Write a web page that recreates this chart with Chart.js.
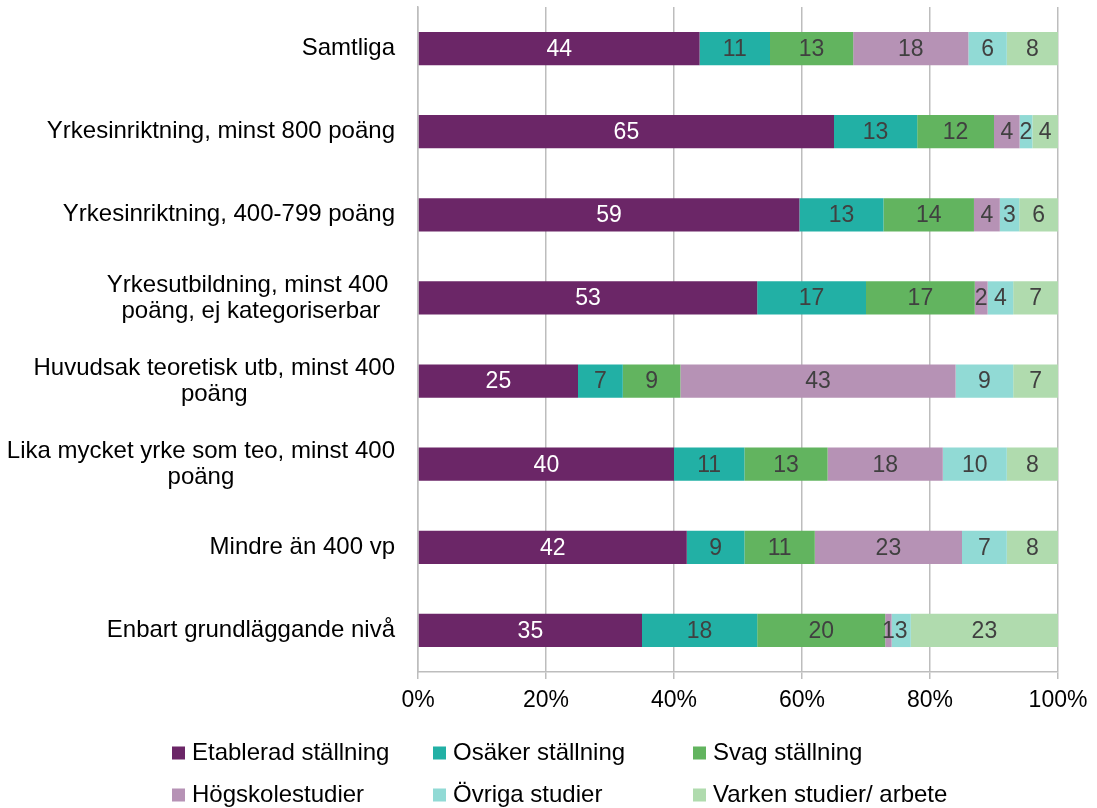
<!DOCTYPE html>
<html>
<head>
<meta charset="utf-8">
<script src="https://cdn.jsdelivr.net/npm/chart.js@4.4.1/dist/chart.umd.min.js"></script>
<style>
  html, body { margin: 0; padding: 0; background: #fff; }
</style>
</head>
<body>
<canvas id="chart" width="1097" height="808"></canvas>
<script>
// Kategorier (radbrytningar som i originalet)
const categories = [
  ['Samtliga'],
  ['Yrkesinriktning, minst 800 poäng'],
  ['Yrkesinriktning, 400-799 poäng'],
  ['Yrkesutbildning, minst 400 ', 'poäng, ej kategoriserbar'],
  ['Huvudsak teoretisk utb, minst 400', 'poäng'],
  ['Lika mycket yrke som teo, minst 400', 'poäng'],
  ['Mindre än 400 vp'],
  ['Enbart grundläggande nivå']
];

const seriesNames = ['Etablerad ställning', 'Osäker ställning', 'Svag ställning',
  'Högskolestudier', 'Övriga studier', 'Varken studier/ arbete'];

const etablerad = [44, 65, 59, 53, 25, 40, 42, 35];
const osaker    = [11, 13, 13, 17, 7, 11, 9, 18];
const svag      = [13, 12, 14, 17, 9, 13, 11, 20];
const hogskole  = [18, 4, 4, 2, 43, 18, 23, 1];
const ovriga    = [6, 2, 3, 4, 9, 10, 7, 3];
const varken    = [8, 4, 6, 7, 7, 8, 8, 23];

const xTicks = [0, 20, 40, 60, 80, 100];

const colors = ['#6B2667', '#22B0A5', '#62B45F', '#B692B5', '#91DAD5', '#B0DBAE'];
const FONT = '"Liberation Sans", Arial, sans-serif';

const allSeries = [etablerad, osaker, svag, hogskole, ovriga, varken];
// 100 % staplat: räkna om varje rad till andel av radsumman
const rowSums = categories.map((_, i) => allSeries.reduce((s, arr) => s + arr[i], 0));

const datasets = allSeries.map((arr, k) => ({
  label: seriesNames[k],
  data: arr.map((v, i) => v / rowSums[i] * 100),
  raw: arr,
  backgroundColor: colors[k],
  borderWidth: 0,
  barPercentage: 0.4,
  categoryPercentage: 1.0
}));

// Värdeetiketter mitt i varje segment
const valueLabels = {
  id: 'valueLabels',
  afterDatasetsDraw(chart) {
    const ctx = chart.ctx;
    ctx.save();
    ctx.font = '23px ' + FONT;
    ctx.textAlign = 'center';
    ctx.textBaseline = 'middle';
    chart.data.datasets.forEach((ds, di) => {
      const meta = chart.getDatasetMeta(di);
      meta.data.forEach((el, i) => {
        ctx.fillStyle = di === 0 ? '#ffffff' : '#404040';
        ctx.fillText(String(ds.raw[i]), (el.x + el.base) / 2, el.y + 1);
      });
    });
    ctx.restore();
  }
};

// Kategorietiketter: blocket högerjusterat, raderna centrerade
const categoryLabels = {
  id: 'categoryLabels',
  afterDraw(chart) {
    const ctx = chart.ctx;
    const yScale = chart.scales.y;
    const right = 395;
    const lh = 26;
    ctx.save();
    ctx.font = '24px ' + FONT;
    ctx.fillStyle = '#000';
    ctx.textAlign = 'center';
    ctx.textBaseline = 'middle';
    chart.data.labels.forEach((lines, i) => {
      const y = yScale.getPixelForValue(i);
      const w = Math.max(...lines.map(l => ctx.measureText(l).width));
      const cx = right - w / 2;
      const y0 = y - (lines.length - 1) * lh / 2;
      lines.forEach((l, j) => ctx.fillText(l, cx, y0 + j * lh));
    });
    ctx.restore();
  }
};

// Förklaring i två rader, tre kolumner
const gridLegend = {
  id: 'gridLegend',
  afterDraw(chart) {
    const ctx = chart.ctx;
    const cols = [172, 433, 693];
    const rows = [753, 795];
    ctx.save();
    ctx.font = '24px ' + FONT;
    ctx.textBaseline = 'middle';
    ctx.textAlign = 'left';
    chart.data.datasets.forEach((ds, k) => {
      const x = cols[k % 3];
      const y = rows[Math.floor(k / 3)];
      ctx.fillStyle = ds.backgroundColor;
      ctx.fillRect(x, y - 6.5, 13, 13);
      ctx.fillStyle = '#000';
      ctx.fillText(ds.label, x + 20, y);
    });
    ctx.restore();
  }
};

new Chart(document.getElementById('chart'), {
  type: 'bar',
  data: { labels: categories, datasets: datasets },
  options: {
    responsive: false,
    animation: false,
    indexAxis: 'y',
    layout: { padding: { top: 7, right: 39, left: 0, bottom: 0 } },
    plugins: {
      legend: { display: false },
      tooltip: { enabled: false }
    },
    scales: {
      x: {
        stacked: true,
        min: 0,
        max: 100,
        afterBuildTicks(scale) {
          scale.ticks = xTicks.map(v => ({ value: v }));
        },
        afterFit(scale) { scale.height = 136; },
        grid: { color: '#BDBDBD', lineWidth: 1.5, tickLength: 7 },
        border: { color: '#BDBDBD', width: 1.5 },
        ticks: {
          color: '#000',
          padding: 8,
          maxRotation: 0,
          font: { family: FONT, size: 23 },
          callback: v => v + '%'
        }
      },
      y: {
        stacked: true,
        afterFit(scale) { scale.width = 418; },
        grid: { display: false },
        border: { color: '#BDBDBD', width: 1.5 },
        ticks: { display: false }
      }
    }
  },
  plugins: [valueLabels, categoryLabels, gridLegend]
});
</script>
</body>
</html>
